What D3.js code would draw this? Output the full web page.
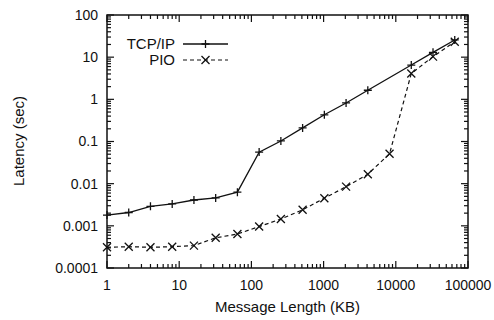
<!DOCTYPE html>
<html>
<head>
<meta charset="utf-8">
<script src="https://cdn.jsdelivr.net/npm/d3@7"></script>
<style>
  body { margin: 0; background: #fff; }
  text { font-family: "Liberation Sans", Arial, sans-serif; fill: #111; }
</style>
</head>
<body>
<svg id="chart" width="494" height="320"></svg>
<script>
// message sizes in KB
var sizes = [1, 2, 4, 8, 16, 32, 64, 128, 256, 512, 1024, 2048, 4096, 8192, 16384, 32768, 65536];

// latency in seconds (TCP/IP has no 8192 point)
var tcpSizes = [1, 2, 4, 8, 16, 32, 64, 128, 256, 512, 1024, 2048, 4096, 16384, 32768, 65536];
var tcpLatency = [0.0018, 0.00207, 0.0029, 0.0033, 0.0041, 0.0046, 0.0063, 0.056, 0.103, 0.21, 0.43, 0.82, 1.64, 6.5, 13, 25.6];
var pioLatency = [0.00031, 0.00032, 0.00031, 0.00032, 0.00034, 0.00052, 0.00064, 0.00096, 0.00145, 0.0024, 0.0045, 0.0085, 0.0168, 0.051, 4.1, 10.3, 23.3];

var xTicks = [1, 10, 100, 1000, 10000, 100000];
var yTicks = [0.0001, 0.001, 0.01, 0.1, 1, 10, 100];
var yTickLabels = ["0.0001", "0.001", "0.01", "0.1", "1", "10", "100"];

var svg = d3.select("#chart");
var plotLeft = 107, plotRight = 468, plotTop = 15, plotBottom = 268;

var x = d3.scaleLog().domain([1, 100000]).range([plotLeft, plotRight]);
var y = d3.scaleLog().domain([0.0001, 100]).range([plotBottom, plotTop]);

// minor ticks 2..9 in every decade
function minors(lo, hi) {
  var out = [];
  for (var d = lo; d < hi * 0.99; d *= 10) {
    for (var k = 2; k <= 9; k++) out.push(d * k);
  }
  return out;
}
var xMinor = minors(1, 100000);
var yMinor = minors(0.0001, 100);

var g = svg.append("g");

function isMajor(list, d) {
  return list.some(function(t) { return Math.abs(t - d) / t < 1e-6; });
}

// ticks pointing into the plot on all four sides
var xAll = xTicks.concat(xMinor), yAll = yTicks.concat(yMinor);
g.selectAll(".xt").data(xAll).enter().append("line")
  .attr("x1", function(d) { return x(d); }).attr("x2", function(d) { return x(d); })
  .attr("y1", plotBottom).attr("y2", function(d) { return plotBottom - (isMajor(xTicks, d) ? 7 : 4); })
  .attr("stroke", "#111").attr("stroke-width", 1.2);
g.selectAll(".xtt").data(xAll).enter().append("line")
  .attr("x1", function(d) { return x(d); }).attr("x2", function(d) { return x(d); })
  .attr("y1", plotTop).attr("y2", function(d) { return plotTop + (isMajor(xTicks, d) ? 7 : 4); })
  .attr("stroke", "#111").attr("stroke-width", 1.2);
g.selectAll(".yt").data(yAll).enter().append("line")
  .attr("y1", function(d) { return y(d); }).attr("y2", function(d) { return y(d); })
  .attr("x1", plotLeft).attr("x2", function(d) { return plotLeft + (isMajor(yTicks, d) ? 7 : 4); })
  .attr("stroke", "#111").attr("stroke-width", 1.2);
g.selectAll(".ytr").data(yAll).enter().append("line")
  .attr("y1", function(d) { return y(d); }).attr("y2", function(d) { return y(d); })
  .attr("x1", plotRight).attr("x2", function(d) { return plotRight - (isMajor(yTicks, d) ? 7 : 4); })
  .attr("stroke", "#111").attr("stroke-width", 1.2);

// frame
g.append("rect")
  .attr("x", plotLeft).attr("y", plotTop)
  .attr("width", plotRight - plotLeft).attr("height", plotBottom - plotTop)
  .attr("fill", "none").attr("stroke", "#111").attr("stroke-width", 1.5);

// tick labels
g.selectAll(".xl").data(xTicks).enter().append("text")
  .attr("x", function(d) { return x(d); })
  .attr("y", 290)
  .attr("text-anchor", "middle")
  .style("font-size", "14px")
  .text(function(d) { return d; });
g.selectAll(".yl").data(yTicks).enter().append("text")
  .attr("x", 98)
  .attr("y", function(d) { return y(d); })
  .attr("dy", "0.35em")
  .attr("text-anchor", "end")
  .style("font-size", "14px")
  .text(function(d, i) { return yTickLabels[i]; });

// axis titles
g.append("text")
  .attr("x", (plotLeft + plotRight) / 2).attr("y", 312)
  .attr("text-anchor", "middle")
  .style("font-size", "15px")
  .text("Message Length (KB)");
g.append("text")
  .attr("transform", "translate(24,141) rotate(-90)")
  .attr("text-anchor", "middle")
  .style("font-size", "15px")
  .text("Latency (sec)");

// series
var tcpData = tcpSizes.map(function(s, i) { return [s, tcpLatency[i]]; });
var pioData = sizes.map(function(s, i) { return [s, pioLatency[i]]; });

var line = d3.line()
  .x(function(d) { return x(d[0]); })
  .y(function(d) { return y(d[1]); });

g.append("path").datum(tcpData)
  .attr("d", line)
  .attr("fill", "none").attr("stroke", "#111").attr("stroke-width", 1.3);
g.append("path").datum(pioData)
  .attr("d", line)
  .attr("fill", "none").attr("stroke", "#111").attr("stroke-width", 1.2)
  .attr("stroke-dasharray", "4,3");

var m = 4;
function drawPlus(sel, cx, cy) {
  sel.append("path")
    .attr("d", "M" + (cx - m) + "," + cy + "H" + (cx + m) + "M" + cx + "," + (cy - m) + "V" + (cy + m))
    .attr("stroke", "#111").attr("stroke-width", 1.3);
}
function drawX(sel, cx, cy) {
  sel.append("path")
    .attr("d", "M" + (cx - m) + "," + (cy - m) + "L" + (cx + m) + "," + (cy + m) +
               "M" + (cx - m) + "," + (cy + m) + "L" + (cx + m) + "," + (cy - m))
    .attr("stroke", "#111").attr("stroke-width", 1.3);
}
tcpData.forEach(function(d) { drawPlus(g, x(d[0]), y(d[1])); });
pioData.forEach(function(d) { drawX(g, x(d[0]), y(d[1])); });

// legend
var legend = g.append("g");
legend.append("text").attr("x", 175).attr("y", 44).attr("dy", "0.35em")
  .attr("text-anchor", "end").style("font-size", "15px").text("TCP/IP");
legend.append("line").attr("x1", 183).attr("x2", 228).attr("y1", 44).attr("y2", 44)
  .attr("stroke", "#111").attr("stroke-width", 1.3);
drawPlus(legend, 205.5, 44);
legend.append("text").attr("x", 175).attr("y", 60).attr("dy", "0.35em")
  .attr("text-anchor", "end").style("font-size", "15px").text("PIO");
legend.append("line").attr("x1", 183).attr("x2", 228).attr("y1", 60).attr("y2", 60)
  .attr("stroke", "#111").attr("stroke-width", 1.2).attr("stroke-dasharray", "4,3");
drawX(legend, 205.5, 60);
</script>
</body>
</html>
